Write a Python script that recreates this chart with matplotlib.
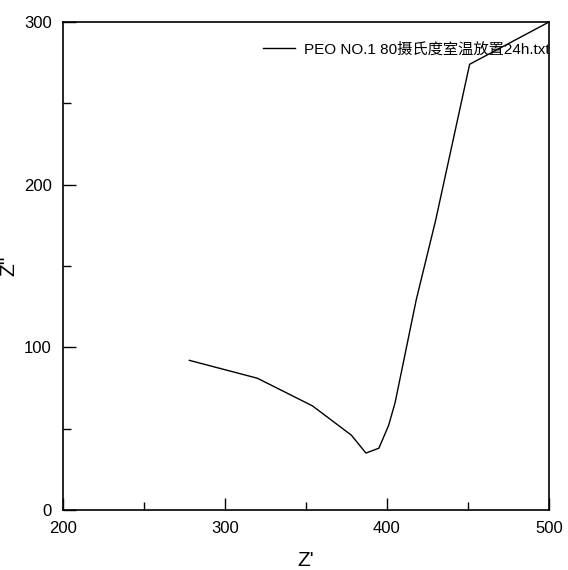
import matplotlib.pyplot as plt
import numpy as np

plt.rcParams['font.family'] = ['Liberation Sans', 'Noto Sans CJK SC', 'DejaVu Sans']

# Nyquist data
z_re = [278, 320, 354, 378, 387, 395, 401, 405, 418, 430, 451, 500]
z_im = [92, 81, 64, 46, 35, 38, 52, 66, 129, 178, 274, 300]
label = 'PEO NO.1 80摄氏度室温放置24h.txt'

fig = plt.figure(figsize=(5.68, 5.70), dpi=100)
ax = fig.add_axes([63/568, 60/570, 486/568, 488/570])

ax.plot(z_re, z_im, '-', color='black', lw=1, label=label)

ax.set_xlim(200, 500)
ax.set_ylim(0, 300)
ax.set_xticks([200, 300, 400, 500])
ax.set_yticks([0, 100, 200, 300])
ax.set_xticks([250, 350, 450], minor=True)
ax.set_yticks([50, 150, 250], minor=True)
ax.tick_params(which='major', direction='in', length=9, width=1, labelsize=12, pad=8)
ax.tick_params(which='minor', direction='in', length=6, width=1)
for s in ax.spines.values():
    s.set_linewidth(1.2)

ax.set_xlabel("Z'", fontsize=15, labelpad=11)
ax.set_ylabel("Z''", fontsize=15, labelpad=4)

leg = ax.legend(loc='upper right', bbox_to_anchor=(1.014, 0.971), frameon=False,
                fontsize=11, handlelength=2.1, handletextpad=0.6, borderaxespad=0)

fig.savefig('out.png', dpi=100)
